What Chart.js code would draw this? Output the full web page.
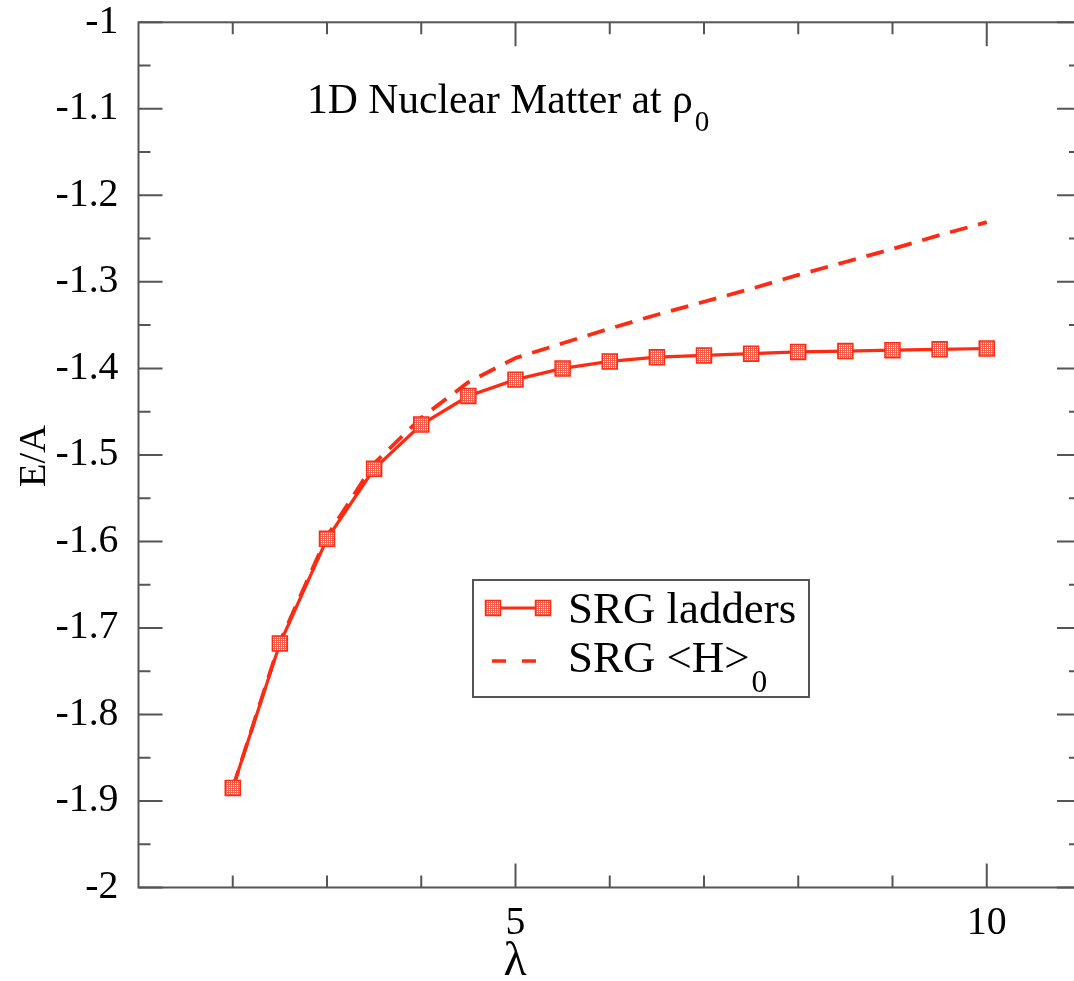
<!DOCTYPE html>
<html>
<head>
<meta charset="utf-8">
<script src="https://cdn.jsdelivr.net/npm/chart.js"></script>
<style>
  html, body { margin: 0; padding: 0; background: #fff; overflow: hidden; }
  canvas { display: block; }
</style>
</head>
<body>
<canvas id="chart" width="1096" height="981"></canvas>
<script>
// lambda grid and energies per particle
const lambdas = [2, 2.5, 3, 3.5, 4, 4.5, 5, 5.5, 6, 6.5, 7, 7.5, 8, 8.5, 9, 9.5, 10];
const srgLadders = [-1.885, -1.718, -1.597, -1.516, -1.465, -1.432, -1.413, -1.400, -1.392,
  -1.387, -1.385, -1.383, -1.381, -1.380, -1.379, -1.378, -1.377];
const srgExpect = [-1.885, -1.716, -1.594, -1.510, -1.457, -1.416, -1.388, -1.371, -1.354,
  -1.338, -1.323, -1.308, -1.292, -1.277, -1.262, -1.246, -1.231];

const xLabelled = [5, 10];
const xRange = [1, 11];
const yRange = [-2, -1];

const RED = '#ff2a12';
const FONT = '"Liberation Serif", Tinos, "Times New Roman", "DejaVu Serif", serif';

// pick a font size that makes a string come out at a given width
const probe = document.createElement('canvas').getContext('2d');
function sizeFor(text, width) {
  probe.font = '100px ' + FONT;
  return Math.round(100 * width / probe.measureText(text).width * 10) / 10;
}
const tickSize = sizeFor('-1.1', 63);
const titleSize = sizeFor('1D Nuclear Matter at \u03c1', 386);
const legendSize = sizeFor('SRG ladders', 228);
const axisSize = sizeFor('E/A', 62);

// little dotted fill used inside the square markers
function dotPattern() {
  const c = document.createElement('canvas');
  c.width = 2; c.height = 2;
  const g = c.getContext('2d');
  g.fillStyle = '#ff5a48';
  g.fillRect(0, 0, 2, 2);
  g.fillStyle = '#ffffff';
  g.fillRect(1, 1, 1, 1);
  return g.createPattern(c, 'repeat');
}
const dots = dotPattern();

function square(ctx, x, y) {
  ctx.save();
  ctx.fillStyle = dots;
  ctx.fillRect(x - 7.5, y - 7.5, 15, 15);
  ctx.strokeStyle = RED;
  ctx.lineWidth = 1.5;
  ctx.strokeRect(x - 7.5, y - 7.5, 15, 15);
  ctx.restore();
}

// text with a lowered "0" after it
function textSub(ctx, str, x, y, size, subSize, drop) {
  ctx.font = size + 'px ' + FONT;
  ctx.fillText(str, x, y);
  const w = ctx.measureText(str).width;
  ctx.font = subSize + 'px ' + FONT;
  ctx.fillText('0', x + w + 2, y + drop);
}

// frame, inward ticks, labels and legend
const decor = {
  id: 'decor',
  afterDraw(chart) {
    const ctx = chart.ctx;
    const a = chart.chartArea;
    const xs = chart.scales.x, ys = chart.scales.y;
    ctx.save();
    ctx.strokeStyle = '#555';
    ctx.lineWidth = 2;
    ctx.strokeRect(a.left, a.top, a.right - a.left, a.bottom - a.top);

    ctx.beginPath();
    for (let v = xRange[0] + 1; v < xRange[1]; v++) {
      const len = xLabelled.includes(v) ? 24 : 12;
      const px = xs.getPixelForValue(v);
      ctx.moveTo(px, a.bottom); ctx.lineTo(px, a.bottom - len);
      ctx.moveTo(px, a.top); ctx.lineTo(px, a.top + len);
    }
    for (let i = 0; i <= 20; i++) {
      const v = yRange[0] + i * 0.05;
      const len = i % 2 === 0 ? 24 : 12;
      const py = ys.getPixelForValue(v);
      ctx.moveTo(a.left, py); ctx.lineTo(a.left + len, py);
      ctx.moveTo(a.right, py); ctx.lineTo(a.right - len, py);
    }
    ctx.stroke();

    ctx.fillStyle = '#000';
    ctx.textBaseline = 'alphabetic';
    ctx.textAlign = 'left';
    textSub(ctx, '1D Nuclear Matter at \u03c1', 307, 113, titleSize, titleSize * 0.7, 18);

    ctx.textAlign = 'center';
    ctx.font = (titleSize * 1.15) + 'px ' + FONT;
    ctx.fillText('\u03bb', 515, 975);

    ctx.save();
    ctx.translate(45, 456);
    ctx.rotate(-Math.PI / 2);
    ctx.font = axisSize + 'px ' + FONT;
    ctx.fillText('E/A', 0, 0);
    ctx.restore();

    // legend
    ctx.fillStyle = '#fff';
    ctx.fillRect(473, 580, 336, 117);
    ctx.strokeStyle = '#555';
    ctx.lineWidth = 2;
    ctx.strokeRect(473, 580, 336, 117);

    ctx.strokeStyle = RED;
    ctx.lineWidth = 3;
    ctx.beginPath();
    ctx.moveTo(493, 608); ctx.lineTo(543, 608);
    ctx.stroke();
    square(ctx, 493, 608);
    square(ctx, 543, 608);

    ctx.setLineDash([14, 16]);
    ctx.lineWidth = 3.5;
    ctx.beginPath();
    ctx.moveTo(492, 661); ctx.lineTo(545, 661);
    ctx.stroke();
    ctx.setLineDash([]);

    ctx.fillStyle = '#000';
    ctx.textAlign = 'left';
    ctx.font = legendSize + 'px ' + FONT;
    ctx.fillText('SRG ladders', 568, 623);
    textSub(ctx, 'SRG <H>', 568, 672, legendSize, legendSize * 0.7, 20);
    ctx.restore();
  }
};

new Chart(document.getElementById('chart'), {
  type: 'line',
  data: {
    datasets: [
      {
        label: 'SRG ladders',
        data: lambdas.map((x, i) => ({ x, y: srgLadders[i] })),
        borderColor: RED,
        borderWidth: 3.2,
        pointStyle: 'rect',
        pointRadius: 10.6,
        pointBackgroundColor: dots,
        pointBorderColor: RED,
        pointBorderWidth: 1.5,
        tension: 0,
        order: 1
      },
      {
        label: 'SRG <H>0',
        data: lambdas.map((x, i) => ({ x, y: srgExpect[i] })),
        borderColor: RED,
        borderWidth: 3.8,
        borderDash: [18, 11],
        pointRadius: 0,
        tension: 0,
        order: 2
      }
    ]
  },
  options: {
    responsive: false,
    animation: false,
    devicePixelRatio: 1,
    layout: { padding: { left: 0, top: 22.3, right: 15, bottom: 0 } },
    plugins: { legend: { display: false }, title: { display: false }, tooltip: { enabled: false } },
    scales: {
      x: {
        type: 'linear',
        min: xRange[0],
        max: xRange[1],
        grid: { display: false },
        border: { display: false },
        afterFit: s => { s.height = 981 - 887.5; s.paddingLeft = 0; s.paddingRight = 0; },
        ticks: {
          stepSize: 1,
          autoSkip: false,
          maxRotation: 0,
          padding: 8,
          color: '#000',
          font: { family: FONT, size: tickSize, lineHeight: 1 },
          callback: v => xLabelled.includes(v) ? String(v) : ''
        }
      },
      y: {
        type: 'linear',
        min: yRange[0],
        max: yRange[1],
        grid: { display: false },
        border: { display: false },
        afterFit: s => { s.width = 138.5; s.paddingTop = 0; s.paddingBottom = 0; },
        ticks: {
          stepSize: 0.1,
          padding: 12,
          color: '#000',
          font: { family: FONT, size: tickSize, lineHeight: 1 },
          callback: v => String(Number(v.toFixed(2)))
        }
      }
    }
  },
  plugins: [decor]
});
</script>
</body>
</html>
